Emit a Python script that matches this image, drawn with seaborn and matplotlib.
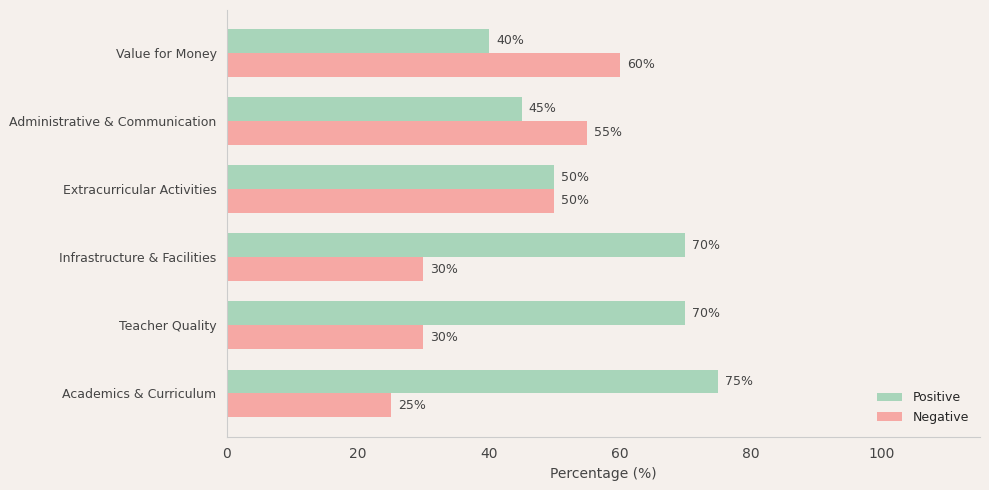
import matplotlib
matplotlib.use("Agg")
import matplotlib.pyplot as plt
import pandas as pd
import seaborn as sns

categories = [
    "Value for Money",
    "Administrative & Communication",
    "Extracurricular Activities",
    "Infrastructure & Facilities",
    "Teacher Quality",
    "Academics & Curriculum",
]
positive = [40, 45, 50, 70, 70, 75]
negative = [60, 55, 50, 30, 30, 25]

BG = "#f5f0ec"
TEXT = "#444444"
palette = {"Positive": "#a8d5ba", "Negative": "#f6a8a4"}

df = pd.DataFrame({
    "Category": categories * 2,
    "Sentiment": ["Positive"] * len(categories) + ["Negative"] * len(categories),
    "Percentage": positive + negative,
})

sns.set_style("white")
plt.rcParams["font.family"] = ["DejaVu Sans"]

fig, ax = plt.subplots(figsize=(9.89, 4.9), dpi=100)
fig.patch.set_facecolor(BG)
ax.set_facecolor(BG)

sns.barplot(
    data=df, y="Category", x="Percentage", hue="Sentiment",
    order=categories, hue_order=["Positive", "Negative"],
    palette=palette, width=0.7, orient="h", saturation=1,
    linewidth=0, edgecolor="none", ax=ax,
)

for container in ax.containers:
    ax.bar_label(container, labels=[f"{v:.0f}%" for v in container.datavalues],
                 padding=5, fontsize=9, color=TEXT)

ax.set_xlim(0, 115)
ax.set_ylim(5.64, -0.63)
ax.set_ylabel("")
ax.set_xlabel("Percentage (%)", fontsize=10, color=TEXT)
ax.tick_params(axis="y", labelsize=9, colors=TEXT, length=4, color="#bbbbbb")
ax.tick_params(axis="x", labelsize=10, colors=TEXT, length=4, color="#bbbbbb")
for side in ["top", "right"]:
    ax.spines[side].set_visible(False)
for side in ["left", "bottom"]:
    ax.spines[side].set_color("#cccccc")

ax.legend(loc="lower right", frameon=False, fontsize=9, title=None,
          bbox_to_anchor=(1.0, 0.005))

fig.subplots_adjust(left=0.2295, right=0.991, top=0.98, bottom=0.108)
fig.savefig("out.png", dpi=100, facecolor=BG)
